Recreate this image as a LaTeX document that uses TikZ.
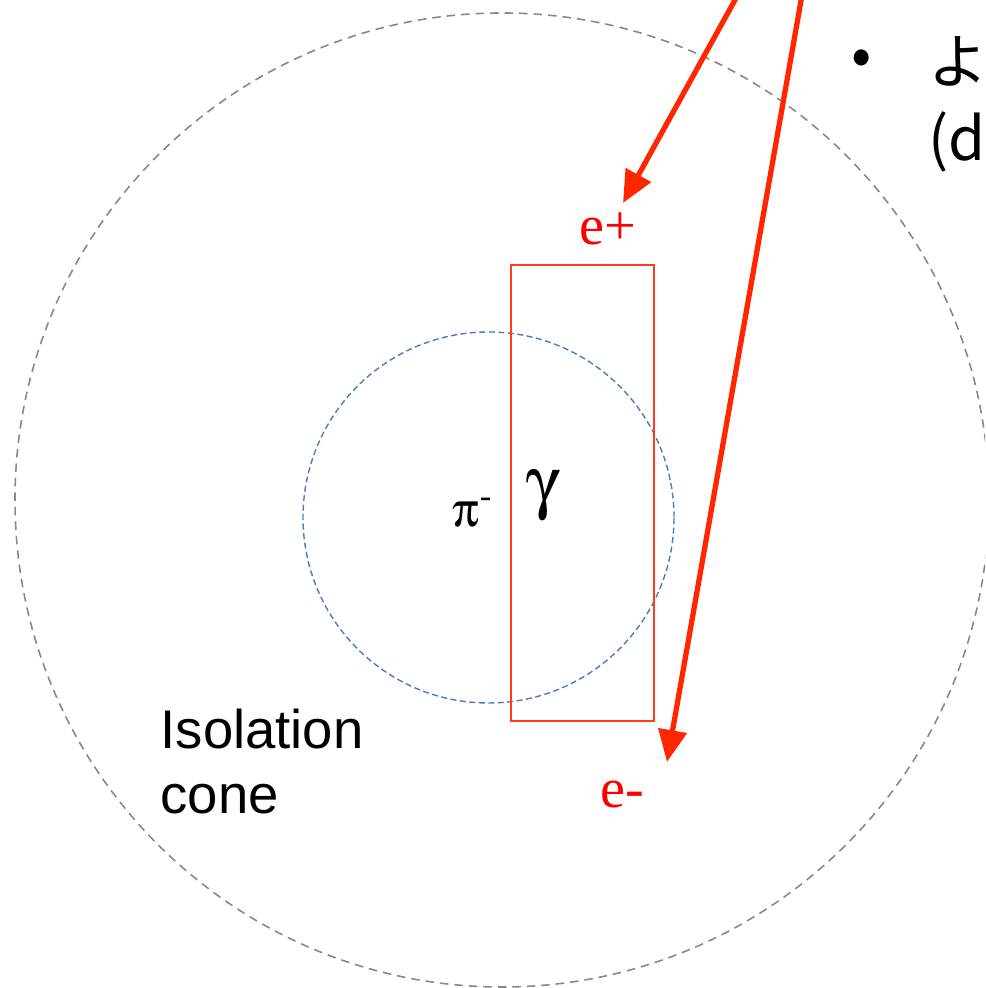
\documentclass[tikz,border=0pt]{standalone}
\usepackage{fontspec}
\setmainfont{Liberation Serif}
\setsansfont{Liberation Sans}
\newfontfamily\jpfont{Noto Sans CJK JP}
\usepackage[Symbol]{upgreek}
\usepackage{xcolor}
\usetikzlibrary{arrows.meta,positioning,calc}

\definecolor{trackred}{HTML}{FF2600}
\definecolor{boxred}{HTML}{FF3B22}
\definecolor{coreblue}{HTML}{4A7EBB}
\definecolor{conegray}{HTML}{888888}

\begin{document}
\begin{tikzpicture}[
  cone/.style={draw=conegray, line width=0.45pt, dash pattern=on 0.85mm off 0.6mm},
  core/.style={draw=coreblue, line width=0.4pt, dash pattern=on 0.6mm off 0.35mm},
  cluster/.style={draw=boxred, line width=0.45pt},
  track/.style={draw=trackred, line width=1.5pt, ->},
  elabel/.style={text=red, font=\fontsize{16}{18}\selectfont, inner sep=0pt},
  plabel/.style={font=\fontsize{14}{16}\selectfont, inner sep=0pt},
  >={Triangle[length=3.2mm,width=2.8mm]}
]
\useasboundingbox (0,0) rectangle (9.85,9.88);
\clip (0,0) rectangle (9.85,9.88);

% isolation cone and core
\draw[cone] (5.02,4.88) circle (4.87);
\draw[core] (4.885,4.705) circle (1.855);
\draw[cluster] (5.11,7.23) rectangle (6.54,2.67);

% particles
\node[plabel] (pim) at (4.73,4.75) {$\uppi$\textsuperscript{-}};
\node[plabel, font=\fontsize{20}{22}\selectfont] (gam) at (5.43,4.92) {$\upgamma$};
\node[elabel] (eplus) at (6.08,7.59) {e+};
\node[elabel] (eminus) at (6.22,1.93) {e-};

% conversion tracks
\coordinate (ep-src) at (7.46,10.08);
\coordinate (ep-tip) at (6.23,7.85);
\coordinate (em-src) at (8.05,10.10);
\coordinate (em-tip) at (6.67,2.26);
\draw[track] (ep-src) -- (ep-tip);
\draw[track] (em-src) -- (em-tip);

\node[font=\sffamily\fontsize{15.5}{18.5}\selectfont, align=left,
      anchor=north west, inner sep=0pt] (iso) at (1.60,2.80) {Isolation\\cone};

% cut-off slide text
\node[font=\jpfont\fontsize{17}{22}\selectfont, inner sep=0pt] (dot) at (8.62,9.25) {•};
\node[font=\jpfont\fontsize{17}{22}\selectfont, align=left,
      anchor=north west, inner sep=0pt] (note) at (9.28,9.52) {よ\\(d};
\end{tikzpicture}
\end{document}
